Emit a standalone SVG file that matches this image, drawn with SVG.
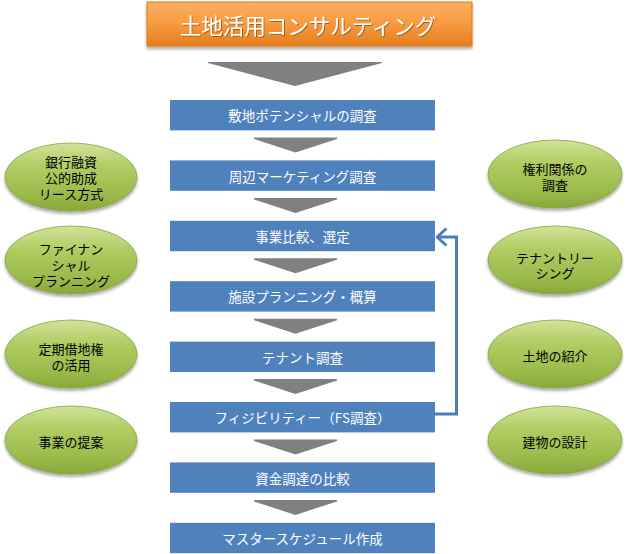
<svg xmlns="http://www.w3.org/2000/svg" width="627" height="554" viewBox="0 0 627 554">
<style>
.box{fill:#4F81BD;}
.btxt{fill:#FFFFFF;font-family:"Noto Sans CJK JP","Noto Sans CJK SC",sans-serif;font-size:13.5px;text-anchor:middle;dominant-baseline:central;}
.etxt{fill:#000000;font-family:"Noto Sans CJK JP","Noto Sans CJK SC",sans-serif;font-size:13px;text-anchor:middle;dominant-baseline:central;}
.ell{fill:url(#gGreen);stroke:#86A63A;stroke-width:0.8;filter:url(#shadow);}
.arr{fill:#808080;}
.conn{fill:none;stroke:#4A7EBB;stroke-width:3;}
</style>
<defs>
<linearGradient id="gGreen" x1="0" y1="0" x2="0" y2="1">
<stop offset="0" stop-color="#D2E39A"/>
<stop offset="0.35" stop-color="#B0CC62"/>
<stop offset="0.75" stop-color="#9BBB4C"/>
<stop offset="1" stop-color="#87A83A"/>
</linearGradient>
<linearGradient id="gOrange" x1="0" y1="0" x2="0" y2="1">
<stop offset="0" stop-color="#FBB063"/>
<stop offset="0.5" stop-color="#F79A3E"/>
<stop offset="1" stop-color="#E47E1E"/>
</linearGradient>
<filter id="shadow" x="-20%" y="-20%" width="140%" height="150%">
<feDropShadow dx="0" dy="2.5" stdDeviation="1.8" flood-color="#000000" flood-opacity="0.35"/>
</filter>
<filter id="tshadow" x="-10%" y="-20%" width="120%" height="150%">
<feDropShadow dx="1" dy="1" stdDeviation="0.6" flood-color="#7A3A00" flood-opacity="0.6"/>
</filter>
<marker id="open" viewBox="0 0 12 20" refX="10.5" refY="10" markerWidth="12" markerHeight="20" markerUnits="userSpaceOnUse" orient="auto">
<path d="M1,1.5 L10.5,10 L1,18.5" fill="none" stroke="#4A7EBB" stroke-width="3"/>
</marker>
</defs>

<g id="title">
<rect x="147" y="2" width="325" height="44" fill="url(#gOrange)" stroke="#E07A1A" stroke-width="1" filter="url(#shadow)"/>
<text x="308" y="24" fill="#FFFFFF" font-family="'Noto Sans CJK JP','Noto Sans CJK SC',sans-serif" font-size="21.5" text-anchor="middle" dominant-baseline="central" filter="url(#tshadow)">土地活用コンサルティング</text>
</g>

<g id="arrows">
<polygon class="arr" points="208,62 382,62 382,63 295,86 208,63"/>
<polygon class="arr" points="254,137.5 337,137.5 337,139 295.5,152.5 254,139"/>
<polygon class="arr" points="254,197.9 337,197.9 337,199.4 295.5,212.9 254,199.4"/>
<polygon class="arr" points="254,258.3 337,258.3 337,259.8 295.5,273.3 254,259.8"/>
<polygon class="arr" points="254,318.7 337,318.7 337,320.2 295.5,333.7 254,320.2"/>
<polygon class="arr" points="254,379.1 337,379.1 337,380.6 295.5,394.1 254,380.6"/>
<polygon class="arr" points="254,439.5 337,439.5 337,441 295.5,454.5 254,441"/>
<polygon class="arr" points="254,499.9 337,499.9 337,501.4 295.5,514.9 254,501.4"/>
</g>

<g id="step1"><rect class="box" x="170" y="100" width="265" height="30.4"/><text class="btxt" x="302.5" y="115.2">敷地ポテンシャルの調査</text></g>
<g id="step2"><rect class="box" x="170" y="160.4" width="265" height="30.4"/><text class="btxt" x="302.5" y="175.6">周辺マーケティング調査</text></g>
<g id="step3"><rect class="box" x="170" y="220.8" width="265" height="30.4"/><text class="btxt" x="302.5" y="236">事業比較、選定</text></g>
<g id="step4"><rect class="box" x="170" y="281.2" width="265" height="30.4"/><text class="btxt" x="302.5" y="296.4">施設プランニング・概算</text></g>
<g id="step5"><rect class="box" x="170" y="341.6" width="265" height="30.4"/><text class="btxt" x="302.5" y="356.8">テナント調査</text></g>
<g id="step6"><rect class="box" x="170" y="402" width="265" height="30.4"/><text class="btxt" x="302.5" y="417.2">フィジビリティー（FS調査）</text></g>
<g id="step7"><rect class="box" x="170" y="462.4" width="265" height="30.4"/><text class="btxt" x="302.5" y="477.6">資金調達の比較</text></g>
<g id="step8"><rect class="box" x="170" y="522.8" width="265" height="30.4"/><text class="btxt" x="302.5" y="538">マスタースケジュール作成</text></g>

<g id="connectors">
<path class="conn" d="M435,414 H456.5 V237 H437" marker-end="url(#open)"/>
</g>

<g id="left1"><ellipse class="ell" cx="71" cy="177" rx="66" ry="34"/>
<text class="etxt" x="71" y="160.5"><tspan x="71" y="160.5">銀行融資</tspan><tspan x="71" y="176.7">公的助成</tspan><tspan x="71" y="192.9">リース方式</tspan></text></g>
<g id="left2"><ellipse class="ell" cx="71" cy="260" rx="66" ry="34"/>
<text class="etxt" x="71" y="248"><tspan x="71" y="248">ファイナン</tspan><tspan x="71" y="264">シャル</tspan><tspan x="71" y="280">プランニング</tspan></text></g>
<g id="left3"><ellipse class="ell" cx="71" cy="354" rx="66" ry="34"/>
<text class="etxt" x="71" y="347.5"><tspan x="71" y="347.5">定期借地権</tspan><tspan x="71" y="363.5">の活用</tspan></text></g>
<g id="left4"><ellipse class="ell" cx="71" cy="440" rx="66" ry="34"/>
<text class="etxt" x="71" y="441.5">事業の提案</text></g>

<g id="right1"><ellipse class="ell" cx="555" cy="174" rx="67" ry="34"/>
<text class="etxt" x="555" y="168"><tspan x="555" y="168">権利関係の</tspan><tspan x="555" y="183.5">調査</tspan></text></g>
<g id="right2"><ellipse class="ell" cx="555" cy="260" rx="67" ry="34"/>
<text class="etxt" x="555" y="256.5"><tspan x="555" y="256.5">テナントリー</tspan><tspan x="555" y="272">シング</tspan></text></g>
<g id="right3"><ellipse class="ell" cx="555" cy="354" rx="67" ry="34"/>
<text class="etxt" x="555" y="355">土地の紹介</text></g>
<g id="right4"><ellipse class="ell" cx="555" cy="440" rx="67" ry="34"/>
<text class="etxt" x="555" y="441.5">建物の設計</text></g>
</svg>
